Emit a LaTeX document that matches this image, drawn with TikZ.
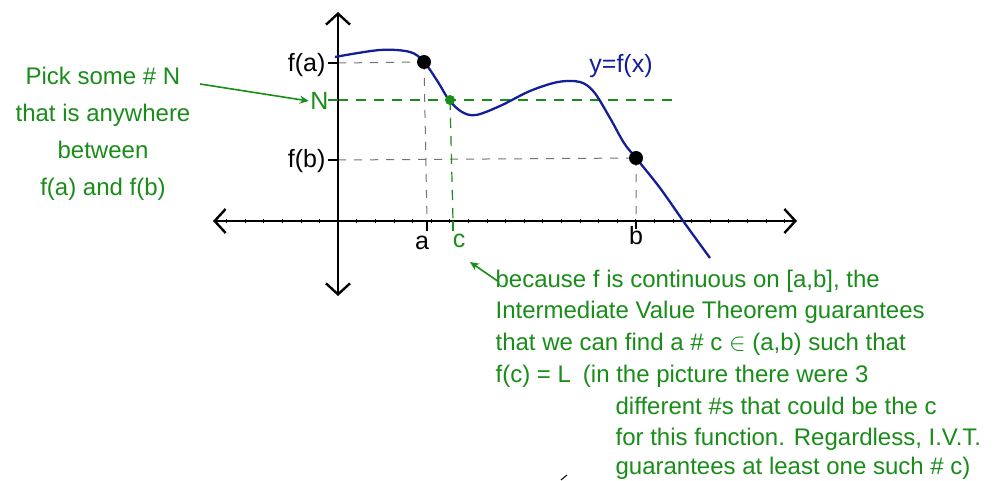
\documentclass[tikz,border=0pt]{standalone}
\usepackage{fontspec}
\setmainfont{Liberation Sans}
\usetikzlibrary{arrows.meta}

\definecolor{penblue}{RGB}{20,30,150}
\definecolor{pengreen}{RGB}{25,140,25}
\definecolor{pengray}{RGB}{115,115,115}

\begin{document}
\begin{tikzpicture}[x=1pt, y=-1pt, line width=1.2pt,
  note/.style={pengreen, font=\fontsize{24}{32}\selectfont, inner sep=0pt},
  lbl/.style={font=\fontsize{25}{28}\selectfont, inner sep=1pt},
  guide/.style={pengray, line width=1pt, dash pattern=on 8pt off 8pt},
  nguide/.style={pengreen, line width=1.2pt, dash pattern=on 10pt off 8pt},
  dot/.style={circle, fill, inner sep=0pt, minimum size=14pt},
  axisline/.style={line width=2.4pt,
    {Straight Barb[length=11pt, width=24pt]}-{Straight Barb[length=11pt, width=24pt]}}]

  \useasboundingbox (0,0) rectangle (1008,481);

  % Points on the graph
  \coordinate (A) at (424,62);
  \coordinate (B) at (636,158);
  \coordinate (C) at (450,100);
  \coordinate (fa) at (338,63);
  \coordinate (Nlev) at (338,100);
  \coordinate (fb) at (338,160);
  \coordinate (xa) at (427,221);
  \coordinate (xb) at (636,221);
  \coordinate (xc) at (453,221);

  % Dashed guide lines
  \draw[guide] (fa) -- (A) (A) -- (xa);
  \draw[guide] (fb) -- (B) (B) -- (xb);
  \draw[nguide] (Nlev) -- (672,100);
  \draw[nguide] (C) -- (xc);

  % Axes
  \draw[axisline] (213,221) -- (797,221);
  \draw[axisline] (338,12) -- (338,296);
  \foreach \k in {-6,...,24}
    \draw[line width=0.6pt] (338+18.6*\k,219) -- (338+18.6*\k,223);

  % Tick marks
  \draw[line width=2pt] (328,63) -- (fa);
  \draw[line width=2pt] (328,160) -- (fb);
  \draw[pengreen, line width=2.4pt] (328,100) -- (Nlev);
  \draw[line width=2pt] (xa) -- (427,231);
  \draw[line width=2pt] (xb) -- (636,229);
  \draw[pengreen, line width=2.4pt] (xc) -- (453,231);

  % The function
  \draw[penblue, line width=2.3pt] plot[smooth, tension=0.55] coordinates {
    (335,57) (380,50) (410,52) (424,62) (438,82) (449,100) (462,112)
    (476,115) (500,106) (530,91) (558,82) (580,82) (594,92) (610,118)
    (624,143) (636,158) (660,188) (686,225) (710,258)};
  \node[dot] at (A) {};
  \node[dot] at (B) {};
  \node[dot, pengreen, minimum size=10pt] at (C) {};

  % Axis labels
  \node[lbl, anchor=east] (falbl) at (327,65) {f(a)};
  \node[lbl, anchor=east, pengreen] (Nlbl) at (330,101) {N};
  \node[lbl, anchor=east] (fblbl) at (327,161) {f(b)};
  \node[lbl] (albl) at (422,243) {a};
  \node[lbl, pengreen] (clbl) at (459,241) {c};
  \node[lbl] (blbl) at (636,236) {b};
  \node[lbl, penblue] (curvelbl) at (621,66) {y=f(x)};

  % Notes
  \node[note, align=center, font=\fontsize{24}{37}\selectfont] (pick) at (103,134)
    {Pick some \# N\\that is anywhere\\between\\f(a) and f(b)};
  \coordinate (picktail) at (200,84);
  \draw[pengreen, line width=1.6pt, -{Stealth[length=9pt, width=8pt]}] (picktail) -- (Nlbl.west);

  \node[note, anchor=base west] (ivt1) at (495,287) {because f is continuous on [a,b], the};
  \node[note, anchor=base west] (ivt2) at (495,318) {Intermediate Value Theorem guarantees};
  \node[note, anchor=base west] (ivt3) at (495,350) {that we can find a \# c $\in$ (a,b) such that};
  \node[note, anchor=base west] (ivt4) at (495,382) {f(c) = L\enspace (in the picture there were 3};
  \node[note, anchor=base west] (ivt5) at (615,414) {different \#s that could be the c};
  \node[note, anchor=base west] (ivt6) at (615,445) {for this function. Regardless, I.V.T.};
  \node[note, anchor=base west] (ivt7) at (615,474) {guarantees at least one such \# c)};
  \coordinate (ivttail) at (499,282);
  \coordinate (chead) at (470,262);
  \draw[pengreen, line width=1.6pt, -{Stealth[length=9pt, width=8pt]}] (ivttail) -- (chead);

  % stray pen mark
  \draw[line width=1pt] (561,480) -- (567,475);

\end{tikzpicture}
\end{document}
